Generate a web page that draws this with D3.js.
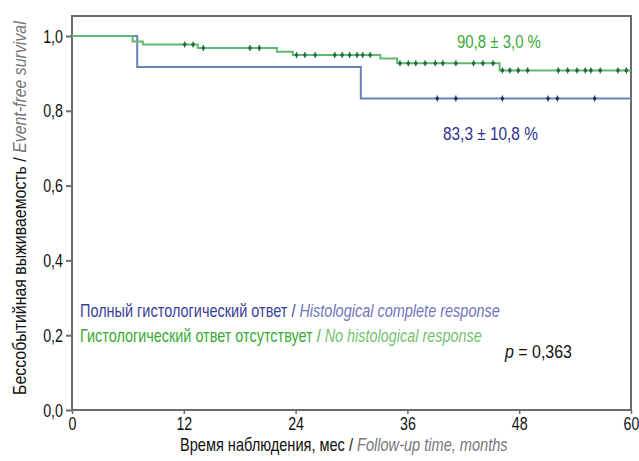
<!DOCTYPE html>
<html>
<head>
<meta charset="utf-8">
<script src="https://cdn.jsdelivr.net/npm/d3@7.9.0/dist/d3.min.js"></script>
<style>
  body { margin: 0; background: #fff; }
  text { font-family: "Liberation Sans", Arial, sans-serif; }
</style>
</head>
<body>
<div id="chart"></div>
<script>
// Kaplan-Meier steps: [month, survival]
const greenSteps = [[0, 1.0], [6.5, 0.985], [7.6, 0.977], [13.5, 0.968], [22, 0.958], [23.7, 0.949], [33.1, 0.94], [34.9, 0.927], [45.9, 0.908], [60, 0.908]];
const blueSteps = [[0, 1.0], [7, 0.917], [31, 0.833], [60, 0.833]];

const greenCensored = [12.1, 13.0, 14.1, 19.1, 20.1, 24.1, 25.0, 26.1, 28.2, 29.0, 29.8, 30.6, 31.2, 32.0,
  35.2, 36.1, 36.9, 37.9, 39.0, 39.8, 41.2, 43.1, 44.1, 45.2, 46.2, 47.0, 47.9, 48.9, 52.2, 53.2, 54.2,
  55.1, 55.7, 56.7, 58.6, 59.5];
const blueCensored = [39.2, 41.2, 46.2, 51.1, 52.1, 56.1];

const xTicks = [0, 12, 24, 36, 48, 60];
const yTicks = [0, 0.2, 0.4, 0.6, 0.8, 1.0];

const width = 639;
const height = 461;
const box = { left: 72, right: 631, top: 16, bottom: 410 };

const svg = d3.select('#chart')
  .append('svg')
  .attr('width', width)
  .attr('height', height);

const x = d3.scaleLinear().domain([0, 60]).range([box.left, box.right]);
const y = d3.scaleLinear().domain([0, 1]).range([box.bottom, 36]);

const fmt = (d) => d3.format('.1f')(d).replace('.', ',');

// squeeze a text horizontally to a target width (condensed look)
function fit(text, w) {
  const n = text.node().getComputedTextLength();
  const k = w / n;
  const x0 = +text.attr('x') || 0;
  const y0 = +text.attr('y') || 0;
  text.attr('transform', `translate(${x0},${y0}) scale(${k},1) translate(${-x0},${-y0})`);
}
function squeeze(text, k) {
  const x0 = +text.attr('x') || 0;
  text.attr('transform', `translate(${x0},0) scale(${k},1) translate(${-x0},0)`);
}

// frame
svg.append('rect')
  .attr('x', box.left)
  .attr('y', box.top)
  .attr('width', box.right - box.left)
  .attr('height', box.bottom - box.top)
  .attr('fill', 'none')
  .attr('stroke', '#6b6b6b')
  .attr('stroke-width', 2);

// y axis
const yAxis = svg.append('g')
  .attr('transform', `translate(${box.left},0)`)
  .call(d3.axisLeft(y).tickValues(yTicks).tickFormat(fmt).tickSize(6).tickPadding(3));
yAxis.select('.domain').remove();
yAxis.selectAll('line').attr('stroke', '#6b6b6b').attr('stroke-width', 2);
yAxis.selectAll('text').attr('font-size', 19).attr('fill', '#111')
  .each(function () { squeeze(d3.select(this), 0.75); });

// x axis
const xAxis = svg.append('g')
  .attr('transform', `translate(0,${box.bottom})`)
  .call(d3.axisBottom(x).tickValues(xTicks).tickSize(4).tickPadding(3));
xAxis.select('.domain').remove();
xAxis.selectAll('line').attr('stroke', '#6b6b6b').attr('stroke-width', 1.5);
xAxis.selectAll('text').attr('font-size', 19).attr('fill', '#111')
  .each(function () { squeeze(d3.select(this), 0.75); });

// curves
const line = d3.line().x((d) => x(d[0])).y((d) => y(d[1])).curve(d3.curveStepAfter);

svg.append('path')
  .datum(blueSteps)
  .attr('d', line)
  .attr('fill', 'none')
  .attr('stroke', '#6783b8')
  .attr('stroke-width', 2);

svg.append('path')
  .datum(greenSteps)
  .attr('d', line)
  .attr('fill', 'none')
  .attr('stroke', '#62b870')
  .attr('stroke-width', 2);

function survAt(steps, t) {
  let v = steps[0][1];
  for (const s of steps) if (s[0] <= t) v = s[1];
  return v;
}

function drawCensors(times, steps, color) {
  const g = svg.append('g');
  g.selectAll('line')
    .data(times)
    .join('line')
    .attr('x1', (d) => x(d))
    .attr('x2', (d) => x(d))
    .attr('y1', (d) => y(survAt(steps, d)) - 3)
    .attr('y2', (d) => y(survAt(steps, d)) + 3)
    .attr('stroke', color)
    .attr('stroke-width', 1.2);
  g.selectAll('circle')
    .data(times)
    .join('circle')
    .attr('cx', (d) => x(d))
    .attr('cy', (d) => y(survAt(steps, d)))
    .attr('r', 1.8)
    .attr('fill', color);
}

drawCensors(greenCensored, greenSteps, '#1e6b3a');
drawCensors(blueCensored, blueSteps, '#27315e');

// annotations
const g1 = svg.append('text')
  .attr('x', 457).attr('y', 48)
  .attr('font-size', 19)
  .attr('fill', '#3aaa35')
  .text('90,8 ± 3,0 %');
fit(g1, 84);

const b1 = svg.append('text')
  .attr('x', 443).attr('y', 140)
  .attr('font-size', 19)
  .attr('fill', '#2e3192')
  .text('83,3 ± 10,8 %');
fit(b1, 95);

const p = svg.append('text')
  .attr('x', 505).attr('y', 358)
  .attr('font-size', 19)
  .attr('fill', '#111');
p.append('tspan').attr('font-style', 'italic').text('p');
p.append('tspan').text(' = 0,363');
fit(p, 67);

// legend
const legend = [
  { ru: 'Полный гистологический ответ', en: 'Histological complete response', c1: '#3b3f9a', c2: '#7075bd', y: 317, w: 420 },
  { ru: 'Гистологический ответ отсутствует', en: 'No histological response', c1: '#3aaa35', c2: '#74bf6f', y: 342, w: 402 },
];
legend.forEach((l) => {
  const t = svg.append('text').attr('x', 80).attr('y', l.y).attr('font-size', 18);
  t.append('tspan').attr('fill', l.c1).text(l.ru + ' / ');
  t.append('tspan').attr('fill', l.c2).attr('font-style', 'italic').text(l.en);
  fit(t, l.w);
});

// axis titles
const xt = svg.append('text')
  .attr('x', 180).attr('y', 451)
  .attr('font-size', 18);
xt.append('tspan').attr('fill', '#111').text('Время наблюдения, мес / ');
xt.append('tspan').attr('fill', '#777').attr('font-style', 'italic').text('Follow-up time, months');
fit(xt, 328);

const ytg = svg.append('g').attr('transform', 'translate(26,395) rotate(-90)');
const yt = ytg.append('text')
  .attr('x', 0).attr('y', 0)
  .attr('font-size', 18);
yt.append('tspan').attr('fill', '#111').text('Бессобытийная выживаемость / ');
yt.append('tspan').attr('fill', '#777').attr('font-style', 'italic').text('Event-free survival');
fit(yt, 374);
</script>
</body>
</html>
